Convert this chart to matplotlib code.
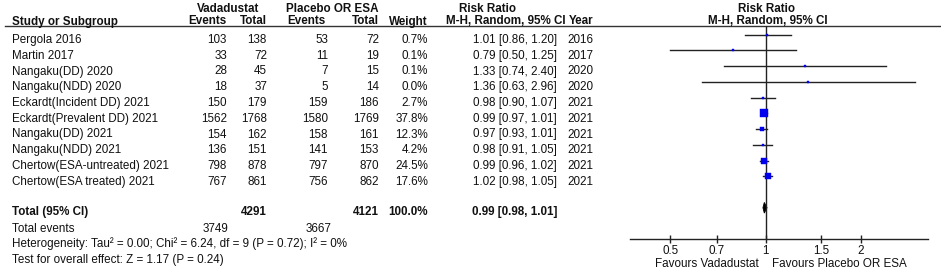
import numpy as np
import matplotlib.pyplot as plt

plt.rcParams['font.family'] = ['Liberation Sans', 'DejaVu Sans']

# Daten der Studien
studies = ["Pergola 2016", "Martin 2017", "Nangaku(DD) 2020", "Nangaku(NDD) 2020",
           "Eckardt(Incident DD) 2021", "Eckardt(Prevalent DD) 2021", "Nangaku(DD) 2021",
           "Nangaku(NDD) 2021", "Chertow(ESA-untreated) 2021", "Chertow(ESA treated) 2021"]
vad_events = [103, 33, 28, 18, 150, 1562, 154, 136, 798, 767]
vad_total = [138, 72, 45, 37, 179, 1768, 162, 151, 878, 861]
pla_events = [53, 11, 7, 5, 159, 1580, 158, 141, 797, 756]
pla_total = [72, 19, 15, 14, 186, 1769, 161, 153, 870, 862]
weights = [0.7, 0.1, 0.1, 0.0, 2.7, 37.8, 12.3, 4.2, 24.5, 17.6]
rr = [1.01, 0.79, 1.33, 1.36, 0.98, 0.99, 0.97, 0.98, 0.99, 1.02]
ci_lo = [0.86, 0.50, 0.74, 0.63, 0.90, 0.97, 0.93, 0.91, 0.96, 0.98]
ci_hi = [1.20, 1.25, 2.40, 2.96, 1.07, 1.01, 1.01, 1.05, 1.02, 1.05]
years = [2016, 2017, 2020, 2020, 2021, 2021, 2021, 2021, 2021, 2021]

total_rr, total_lo, total_hi = 0.99, 0.98, 1.01
total_n = [4291, 4121]
total_events = [3749, 3667]
ticks = [0.5, 0.7, 1, 1.5, 2]

W, H, DPI = 941, 271, 100
fig = plt.figure(figsize=(W / DPI, H / DPI), dpi=DPI)

# Hintergrund-Achse in Pixelkoordinaten fuer die Tabelle
tab = fig.add_axes([0, 0, 1, 1])
tab.set_xlim(0, W)
tab.set_ylim(H, 0)
tab.axis("off")

fs = 8.4
col = "#111111"


def t(x, y, s, ha="right", bold=False):
    tab.text(x, y, s, ha=ha, va="baseline", fontsize=fs, color=col,
             fontweight="bold" if bold else "normal")


# Kopfzeilen
t(228, 11.5, "Vadadustat", ha="center", bold=True)
t(332, 11.5, "Placebo OR ESA", ha="center", bold=True)
t(488, 11.5, "Risk Ratio", ha="center", bold=True)
t(767, 11.5, "Risk Ratio", ha="center", bold=True)
t(12, 24.5, "Study or Subgroup", ha="left", bold=True)
t(227, 24.5, "Events", bold=True)
t(267, 24.5, "Total", bold=True)
t(326, 24.5, "Events", bold=True)
t(379, 24.5, "Total", bold=True)
t(428, 24.5, "Weight", bold=True)
t(506, 24.5, "M-H, Random, 95% CI", ha="center", bold=True)
t(593, 24.5, "Year", bold=True)
t(768, 24.5, "M-H, Random, 95% CI", ha="center", bold=True)
tab.plot([5, W], [26, 26], color="#333333", lw=1)

# Studienzeilen
for i, name in enumerate(studies):
    y = 43 + 15.75 * i
    t(12, y, name, ha="left")
    t(227, y, str(vad_events[i]))
    t(267, y, str(vad_total[i]))
    t(328, y, str(pla_events[i]))
    t(379, y, str(pla_total[i]))
    t(428, y, f"{weights[i]:.1f}%")
    t(557, y, f"{rr[i]:.2f} [{ci_lo[i]:.2f}, {ci_hi[i]:.2f}]")
    t(593, y, str(years[i]))

# Gesamt
t(12, 215, "Total (95% CI)", ha="left", bold=True)
t(267, 215, str(total_n[0]), bold=True)
t(379, 215, str(total_n[1]), bold=True)
t(428, 215, "100.0%", bold=True)
t(557, 215, f"{total_rr:.2f} [{total_lo:.2f}, {total_hi:.2f}]", bold=True)
t(12, 231.5, "Total events", ha="left")
t(228, 231.5, str(total_events[0]))
t(331, 231.5, str(total_events[1]))
t(12, 247, "Heterogeneity: Tau² = 0.00; Chi² = 6.24, df = 9 (P = 0.72); I² = 0%", ha="left")
t(12, 263, "Test for overall effect: Z = 1.17 (P = 0.24)", ha="left")
t(759, 267, "Favours Vadadustat")
t(772, 267, "Favours Placebo OR ESA", ha="left")

# Forest-Plot
x0, x1, y0, y1 = 630, 928, 26, 239
fax = fig.add_axes([x0 / W, 1 - y1 / H, (x1 - x0) / W, (y1 - y0) / H])
fax.patch.set_alpha(0)
px_per_ln = 137.5
fax.set_xscale("log")
fax.set_xlim(np.exp((x0 - 765.7) / px_per_ln), np.exp((x1 - 765.7) / px_per_ln))
row_px, row0 = 15.75, 34.5
fax.set_ylim((y1 - row0) / row_px, (y0 - row0) / row_px)
for s in ["top", "left", "right"]:
    fax.spines[s].set_visible(False)
fax.spines["bottom"].set_color("#222222")
fax.spines["bottom"].set_linewidth(1)
fax.set_yticks([])
fax.set_xticks(ticks)
fax.set_xticklabels([str(v) for v in ticks])
fax.minorticks_off()
fax.tick_params(axis="x", direction="inout", length=6, width=1, labelsize=fs,
                colors="#222222", labelcolor=col, pad=1.5)
fax.axvline(1, color="#222222", lw=1)

for i in range(len(studies)):
    fax.plot([ci_lo[i], ci_hi[i]], [i, i], color="#222222", lw=1)
    side = max(2.0, 1.2 * np.sqrt(weights[i]))
    fax.plot(rr[i], i, marker="s", ms=side * 72 / DPI, color="#0000ee", mec="#0000ee", mew=0.3)

ty = 11.0
fax.fill([total_lo, total_rr, total_hi, total_rr], [ty, ty - 0.34, ty, ty + 0.34],
         color="black", lw=0.6)

fig.savefig("out.png", dpi=DPI)
